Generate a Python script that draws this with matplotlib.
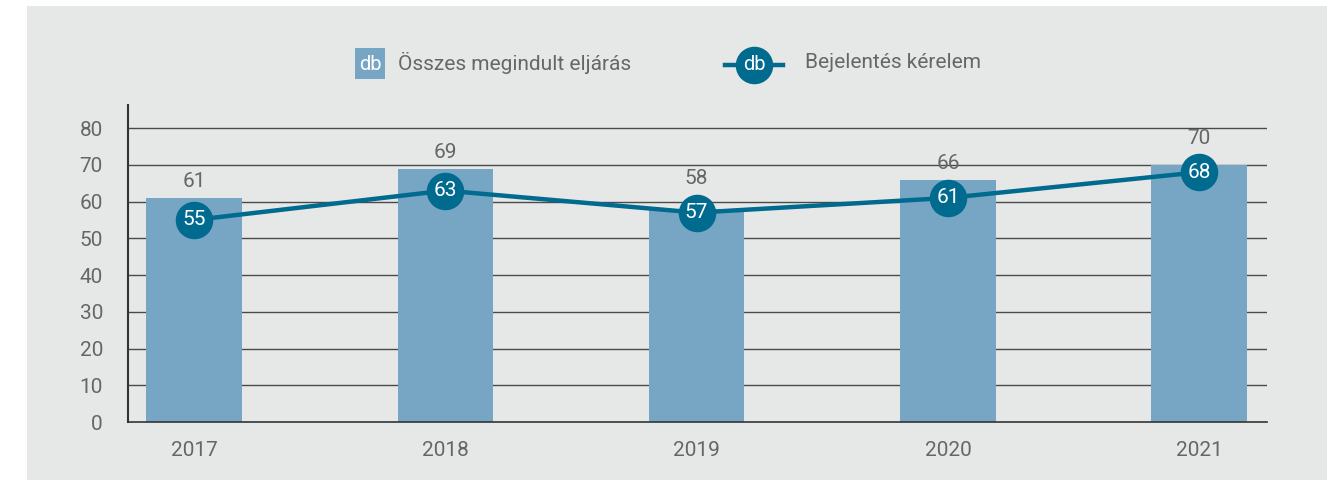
import matplotlib.pyplot as plt
from matplotlib.patches import Rectangle
from matplotlib.lines import Line2D
import numpy as np

years = ["2017", "2018", "2019", "2020", "2021"]
osszes = [61, 69, 58, 66, 70]
bejelentes = [55, 63, 57, 61, 68]
y_ticks = [0, 10, 20, 30, 40, 50, 60, 70, 80]

BAR_COLOR = "#77a6c5"
LINE_COLOR = "#006a8f"
PANEL = "#e6e7e7"
TEXT = "#666666"
GRID = "#4a4a4a"

plt.rcParams["font.family"] = ["Roboto", "DejaVu Sans"]

fig = plt.figure(figsize=(13.41, 4.8), dpi=100)
fig.patch.set_facecolor("white")
fig.patches.append(Rectangle((27 / 1341, 0), 1300 / 1341, 474 / 480,
                             transform=fig.transFigure, facecolor=PANEL,
                             edgecolor="none", zorder=-10))

ax = fig.add_axes([128 / 1341, 58 / 480, 1139 / 1341, 317 / 480])
ax.set_facecolor("none")

x = np.arange(len(years))
ax.bar(x, osszes, width=0.38, color=BAR_COLOR, zorder=2)
ax.plot(x, bejelentes, color=LINE_COLOR, lw=3.2, marker="o", ms=26,
        markerfacecolor=LINE_COLOR, markeredgecolor=LINE_COLOR, zorder=3)

# bar labels sit above whichever is higher: the bar or the line marker
for xi, v, lv in zip(x, osszes, bejelentes):
    base = max(v, lv + 4.8)
    ax.annotate(str(v), (xi, base), xytext=(0, 5), textcoords="offset points",
                ha="center", va="bottom", color=TEXT, fontsize=15)
for xi, v in zip(x, bejelentes):
    ax.text(xi, v, str(v), ha="center", va="center", color="white",
            fontsize=15, zorder=4)

ax.set_xlim(-0.263, 4.27)
ax.set_ylim(0, 86.3)
ax.set_yticks(y_ticks)
ax.set_xticks(x, years)
ax.tick_params(axis="y", length=0, pad=18, labelsize=15, labelcolor=TEXT)
ax.tick_params(axis="x", length=0, pad=14, labelsize=15, labelcolor=TEXT)

for t in y_ticks[1:]:
    ax.axhline(t, color=GRID, lw=1, zorder=1)
for side in ["top", "right"]:
    ax.spines[side].set_visible(False)
ax.spines["left"].set_color("#333333")
ax.spines["left"].set_linewidth(1.5)
ax.spines["bottom"].set_color("#333333")
ax.spines["bottom"].set_linewidth(1.2)

# legend drawn by hand in figure coordinates
fig.patches.append(Rectangle((355 / 1341, 1 - 79 / 480), 30 / 1341, 31 / 480,
                             transform=fig.transFigure, facecolor=BAR_COLOR,
                             edgecolor="none"))
fig.text(370 / 1341, 1 - 65 / 480, "db", color="white", fontsize=14.5,
         ha="center", va="center")
fig.text(398 / 1341, 1 - 63 / 480, "Összes megindult eljárás", color=TEXT,
         fontsize=15, ha="left", va="center")

fig.lines.append(Line2D([725 / 1341, 783 / 1341], [1 - 65 / 480, 1 - 65 / 480],
                        transform=fig.transFigure, color=LINE_COLOR, lw=3.2))
fig.lines.append(Line2D([754 / 1341], [1 - 65 / 480], transform=fig.transFigure,
                        marker="o", ms=26, color=LINE_COLOR, lw=0))
fig.text(754 / 1341, 1 - 65 / 480, "db", color="white", fontsize=14.5,
         ha="center", va="center")
fig.text(805 / 1341, 1 - 63 / 480, "Bejelentés kérelem", color=TEXT,
         fontsize=15, ha="left", va="center")

fig.savefig("out.png", dpi=100)
